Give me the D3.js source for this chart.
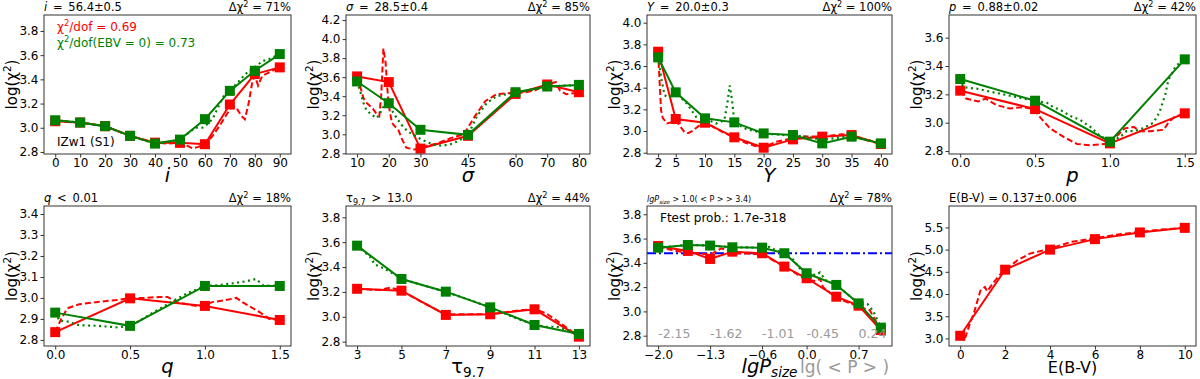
<!DOCTYPE html>
<html lang="en">
<head>
<meta charset="UTF-8">
<title>chi2 grid IZw1</title>
<script src="https://cdn.jsdelivr.net/npm/d3@7"></script>
<style>
  body { margin: 0; background: #fff; }
  svg text { font-family: "DejaVu Sans", sans-serif; }
</style>
</head>
<body>
<script>
// ---- data ----
// i
var iGrid = [0, 10, 20, 30, 40, 50, 60, 70, 80, 90];
var iRed = [3.054, 3.043, 3.013, 2.933, 2.877, 2.875, 2.864, 3.192, 3.444, 3.499];
var iGreen = [3.062, 3.043, 3.013, 2.933, 2.869, 2.902, 3.071, 3.305, 3.471, 3.609];
var iRedFine = [[0,3.054],[10,3.043],[20,3.013],[30,2.933],[40,2.877],[45,2.87],[50,2.875],[53,2.85],[55,2.83],[57,2.84],[60,2.86],[63,2.93],[66,3.02],[69,3.12],[70.5,3.17],[72.5,3.17],[74.5,3.1],[76,3.07],[77.5,3.2],[79,3.38],[80,3.43],[81.3,3.35],[83,3.43],[86,3.46],[90,3.499]];
var iGreenFine = [[0,3.062],[10,3.043],[20,3.013],[30,2.933],[40,2.869],[45,2.88],[50,2.902],[53,2.95],[56,3.0],[59,3.0],[61,3.03],[63,3.07],[66,3.2],[68,3.28],[70,3.305],[73,3.37],[76,3.44],[80,3.5],[83,3.55],[86,3.57],[90,3.609]];

// sigma
var sGrid = [10, 20, 30, 45, 60, 70, 80];
var sRed = [3.608, 3.548, 2.850, 2.984, 3.424, 3.523, 3.442];
var sGreen = [3.555, 3.326, 3.047, 2.994, 3.442, 3.502, 3.519];
var sRedFine = [[10,3.6],[11,3.5],[12,3.38],[13,3.33],[14,3.3],[15,3.27],[16,3.22],[17,3.19],[17.6,3.4],[18.3,3.9],[19,3.75],[19.5,3.5],[20,3.3],[21,3.12],[22,3.08],[23,3.05],[24,2.96],[25.5,2.86],[28,2.84],[30,2.85],[32,2.88],[35,2.9],[39.5,2.96],[43.7,3.0],[47,3.18],[50.5,3.35],[54,3.42],[57,3.43],[60,3.44],[63,3.44],[66,3.46],[70,3.52],[72.7,3.55],[74,3.46],[76,3.42],[80,3.44]];
var sGreenFine = [[10,3.555],[11,3.45],[12,3.33],[13,3.25],[14.5,3.21],[16,3.17],[17,3.2],[18,3.28],[20,3.326],[21,3.25],[22.5,3.17],[24,3.1],[26,3.03],[28,2.99],[30,2.95],[32,2.92],[34,2.89],[37,2.88],[40,2.9],[43,2.95],[45,2.994],[48,3.2],[51,3.33],[54,3.4],[57,3.42],[60,3.442],[63,3.45],[67,3.48],[70,3.502],[75,3.51],[80,3.519]];

// Y
var yGrid = [2, 5, 10, 15, 20, 25, 30, 35, 40];
var yRed = [3.732, 3.111, 3.077, 2.942, 2.846, 2.923, 2.948, 2.963, 2.88];
var yGreen = [3.68, 3.357, 3.117, 3.08, 2.978, 2.963, 2.886, 2.948, 2.886];
var yRedFine = [[2,3.72],[2.3,3.4],[2.5,3.19],[2.8,3.12],[3.5,3.07],[4.2,3.08],[5,3.1],[5.8,3.04],[6.5,2.99],[7.1,2.98],[7.8,3.0],[9,3.05],[10,3.077],[11.3,3.04],[13,2.99],[15,2.942],[17,2.89],[18.7,2.86],[20,2.846],[22,2.9],[23.7,2.92],[26.6,2.95],[30,2.95],[33.3,2.97],[35,2.96],[37.3,2.92],[40,2.88]];
var yGreenFine = [[2,3.68],[2.6,3.47],[3.1,3.33],[3.8,3.31],[5,3.357],[6.8,3.26],[8.5,3.13],[10,3.117],[11.9,3.07],[13.3,3.1],[13.9,3.29],[14.2,3.42],[14.6,3.29],[15,3.08],[17,3.02],[20,2.978],[24,2.96],[27,2.95],[30,2.92],[33,2.94],[35,2.955],[40,2.886]];

// p
var pGrid = [0.0, 0.5, 1.0, 1.5];
var pRed = [3.226, 3.096, 2.854, 3.066];
var pGreen = [3.308, 3.155, 2.866, 3.447];
var pRedFine = [[0,3.226],[0.04,3.17],[0.12,3.15],[0.17,3.17],[0.24,3.125],[0.33,3.1],[0.42,3.11],[0.49,3.096],[0.54,3.03],[0.6,2.96],[0.69,2.9],[0.78,2.85],[0.87,2.84],[0.96,2.85],[1.0,2.854],[1.04,2.9],[1.1,2.96],[1.16,2.97],[1.2,2.94],[1.27,2.94],[1.36,2.95],[1.39,3.0],[1.43,3.04],[1.5,3.066]];
var pGreenFine = [[0,3.308],[0.02,3.25],[0.11,3.24],[0.24,3.21],[0.38,3.18],[0.49,3.155],[0.58,3.14],[0.62,3.11],[0.67,3.09],[0.73,3.05],[0.8,3.02],[0.87,2.97],[0.93,2.91],[1.0,2.866],[1.07,2.9],[1.11,2.94],[1.16,2.94],[1.22,2.96],[1.29,3.0],[1.33,3.07],[1.37,3.2],[1.39,3.3],[1.44,3.4],[1.5,3.447]];

// q
var qGrid = [0.0, 0.5, 1.0, 1.5];
var qRed = [2.837, 2.998, 2.962, 2.895];
var qGreen = [2.93, 2.867, 3.057, 3.057];
var qRedFine = [[0,2.837],[0.04,2.9],[0.08,2.95],[0.16,2.97],[0.27,2.98],[0.41,2.99],[0.5,3.0],[0.6,3.0],[0.7,3.005],[0.75,3.005],[0.81,2.98],[0.88,2.97],[0.96,2.96],[1.05,2.98],[1.14,2.99],[1.21,3.0],[1.25,2.98],[1.37,2.93],[1.43,2.9],[1.5,2.895]];
var qGreenFine = [[0,2.93],[0.03,2.89],[0.07,2.89],[0.16,2.87],[0.29,2.867],[0.41,2.86],[0.5,2.867],[0.56,2.89],[0.7,2.95],[0.875,3.02],[1.0,3.057],[1.08,3.06],[1.19,3.07],[1.28,3.08],[1.34,3.09],[1.39,3.06],[1.5,3.057]];

// tau 9.7
var tGrid = [3, 5, 7, 9, 11, 13];
var tRed = [3.225, 3.21, 3.015, 3.02, 3.06, 2.84];
var tGreen = [3.572, 3.304, 3.202, 3.076, 2.934, 2.862];
var tRedFine = [[3,3.225],[4,3.215],[4.5,3.235],[5,3.21],[6,3.11],[7,3.02],[8,3.02],[9,3.02],[10,3.045],[10.5,3.055],[11,3.06],[11.5,3.03],[12,2.97],[13,2.84]];
var tGreenFine = [[3,3.572],[3.6,3.48],[3.8,3.42],[4.2,3.39],[4.8,3.33],[5,3.304],[7,3.2],[8,3.14],[9,3.076],[10,3.0],[11,2.934],[11.5,2.92],[12,2.92],[13,2.862]];

// lgPsize
var lGrid = [-2.0, -1.6, -1.3, -1.0, -0.6, -0.3, 0.0, 0.4, 0.7, 1.0];
var lRed = [3.539, 3.498, 3.432, 3.492, 3.479, 3.369, 3.273, 3.121, 3.047, 2.847];
var lGreen = [3.525, 3.547, 3.542, 3.528, 3.525, 3.479, 3.314, 3.218, 3.066, 2.866];
var lRedFine = [[-2.0,3.539],[-1.85,3.51],[-1.6,3.48],[-1.45,3.48],[-1.3,3.465],[-1.2,3.5],[-1.15,3.52],[-1.05,3.5],[-1.0,3.48],[-0.6,3.47],[-0.3,3.37],[0.0,3.26],[0.12,3.25],[0.18,3.27],[0.22,3.2],[0.4,3.11],[0.7,3.04],[0.85,3.01],[0.95,2.9],[1.0,2.85]];
var lGreenFine = [[-2.0,3.525],[-1.6,3.547],[-1.3,3.542],[-1.0,3.528],[-0.6,3.525],[-0.5,3.53],[-0.4,3.5],[-0.3,3.48],[-0.2,3.44],[-0.1,3.36],[0.0,3.31],[0.12,3.3],[0.18,3.32],[0.25,3.26],[0.4,3.218],[0.7,3.066],[0.82,3.06],[0.9,3.0],[1.0,2.866]];
var lFtestLevel = 3.479;
var lTicks = [-2.0, -1.3, -0.6, 0.0, 0.7];
var lTickLabels = ["\u22122.0", "\u22121.3", "\u22120.6", "0.0", "0.7"];
var lMeanPLabels = ["-2.15", "-1.62", "-1.01", "-0.45", "0.24"];

// E(B-V)
var eGrid = [0, 2, 4, 6, 8, 10];
var eRed = [3.06, 4.548, 5.0, 5.236, 5.387, 5.49];
var eRedFine = [[0,3.06],[0.18,2.95],[0.4,3.29],[0.62,3.59],[0.9,4.08],[1.1,4.16],[1.2,4.06],[1.44,4.23],[1.74,4.42],[2,4.55],[2.55,4.76],[3.1,4.91],[4,5.02],[4.9,5.17],[6,5.26],[7,5.34],[8,5.4],[8.9,5.45],[10,5.49]];

// ---- layout ----
var w = 1200, h = 379;
var cols = [[44, 291], [346, 590], [647, 892], [949, 1196]];
var rows = [[15, 154], [206, 346]];
var tickFs = 12, ylabFs = 15, mathFs = 19.5, topFs = 11.5;
var EN = "\u2002";

var svg = d3.select("body").append("svg").attr("width", w).attr("height", h);

// text with italic / super / subscript / colour pieces
function rich(sel, parts, fs) {
  var shift = 0;
  parts.forEach(function(p) {
    var target = p.sup ? -fs * 0.38 : (p.sub ? fs * 0.22 : 0);
    var ts = sel.append("tspan").text(p.t).attr("dy", target - shift);
    shift = target;
    if (p.sup || p.sub) ts.attr("font-size", fs * 0.7);
    if (p.i) ts.style("font-style", "italic");
    if (p.c) ts.attr("fill", p.c);
  });
  return sel;
}

function dchi(v) { return [{t: "\u0394\u03c7"}, {t: "2", sup: 1}, {t: " = " + v}]; }

var panels = [
  {c: 0, r: 0, xs: iGrid, red: iRed, green: iGreen, redFine: iRedFine, greenFine: iGreenFine,
   yDom: [2.783, 3.932], yTicks: [2.8, 3.0, 3.2, 3.4, 3.6, 3.8], xTicks: iGrid, xFmt: d3.format("d"),
   xLab: [{t: "i", i: 1}], left: [{t: "i", i: 1}, {t: EN + "=" + EN + "56.4\u00b10.5"}], right: "71%"},
  {c: 1, r: 0, xs: sGrid, red: sRed, green: sGreen, redFine: sRedFine, greenFine: sGreenFine,
   yDom: [2.793, 4.253], yTicks: [2.8, 3.0, 3.2, 3.4, 3.6, 3.8, 4.0, 4.2], xTicks: sGrid, xFmt: d3.format("d"),
   xLab: [{t: "\u03c3", i: 1}], left: [{t: "\u03c3", i: 1}, {t: EN + "=" + EN + "28.5\u00b10.4"}], right: "85%"},
  {c: 2, r: 0, xs: yGrid, red: yRed, green: yGreen, redFine: yRedFine, greenFine: yGreenFine,
   yDom: [2.788, 4.071], yTicks: [2.8, 3.0, 3.2, 3.4, 3.6, 3.8, 4.0], xTicks: yGrid, xFmt: d3.format("d"),
   xLab: [{t: "Y", i: 1}], left: [{t: "Y", i: 1}, {t: EN + "=" + EN + "20.0\u00b10.3"}], right: "100%"},
  {c: 3, r: 0, xs: pGrid, red: pRed, green: pGreen, redFine: pRedFine, greenFine: pGreenFine,
   yDom: [2.779, 3.76], yTicks: [2.8, 3.0, 3.2, 3.4, 3.6], xTicks: pGrid, xFmt: d3.format(".1f"),
   xLab: [{t: "p", i: 1}], left: [{t: "p", i: 1}, {t: EN + "=" + EN + "0.88\u00b10.02"}], right: "42%"},
  {c: 0, r: 1, xs: qGrid, red: qRed, green: qGreen, redFine: qRedFine, greenFine: qGreenFine,
   yDom: [2.771, 3.438], yTicks: [2.8, 2.9, 3.0, 3.1, 3.2, 3.3, 3.4], xTicks: qGrid, xFmt: d3.format(".1f"),
   xLab: [{t: "q", i: 1}], left: [{t: "q", i: 1}, {t: EN + "<" + EN + "0.01"}], right: "18%"},
  {c: 1, r: 1, xs: tGrid, red: tRed, green: tGreen, redFine: tRedFine, greenFine: tGreenFine,
   yDom: [2.765, 3.891], yTicks: [2.8, 3.0, 3.2, 3.4, 3.6, 3.8], xTicks: tGrid, xFmt: d3.format("d"),
   xLab: [{t: "\u03c4"}, {t: "9.7", sub: 1}], left: [{t: "\u03c4"}, {t: "9.7", sub: 1}, {t: EN + ">" + EN + "13.0"}], right: "44%"},
  {c: 2, r: 1, xs: lGrid, red: lRed, green: lGreen, redFine: lRedFine, greenFine: lGreenFine,
   yDom: [2.715, 3.868], yTicks: [2.8, 3.0, 3.2, 3.4, 3.6, 3.8], xTicks: lTicks,
   xFmt: function(d, i) { return lTickLabels[i]; }, xLab: null, left: null, right: "78%", lg: true},
  {c: 3, r: 1, xs: eGrid, red: eRed, green: null, redFine: eRedFine, greenFine: null,
   yDom: [2.83, 5.982], yTicks: [3.0, 3.5, 4.0, 4.5, 5.0, 5.5], xTicks: eGrid, xFmt: d3.format("d"),
   xLab: [{t: "E(B-V)"}], xLabFs: 16, left: [{t: "E(B-V) = 0.137\u00b10.006"}], right: null}
];

panels.forEach(function(p, k) {
  var x0 = cols[p.c][0], x1 = cols[p.c][1], y0 = rows[p.r][0], y1 = rows[p.r][1];
  var lo = d3.min(p.xs), hi = d3.max(p.xs), m = (hi - lo) * 0.05;
  var xScale = d3.scaleLinear().domain([lo - m, hi + m]).range([x0, x1]);
  var yScale = d3.scaleLinear().domain(p.yDom).range([y1, y0]);
  var g = svg.append("g");

  g.append("clipPath").attr("id", "clip" + k)
    .append("rect").attr("x", x0).attr("y", y0).attr("width", x1 - x0).attr("height", y1 - y0);
  var plot = g.append("g").attr("clip-path", "url(#clip" + k + ")");

  var line = d3.line().x(function(d) { return xScale(d[0]); }).y(function(d) { return yScale(d[1]); });
  function pairs(ys) { return p.xs.map(function(v, i) { return [v, ys[i]]; }); }

  if (p.lg) {
    plot.append("line")
      .attr("x1", x0).attr("x2", x1)
      .attr("y1", yScale(lFtestLevel)).attr("y2", yScale(lFtestLevel))
      .attr("stroke", "#0000ff").attr("stroke-width", 2).attr("stroke-dasharray", "9,3,2,3");
  }

  // red: coarse grid + fine grid
  plot.append("path").attr("d", line(pairs(p.red)))
    .attr("fill", "none").attr("stroke", "#ff0000").attr("stroke-width", 2);
  plot.append("path").attr("d", line(p.redFine))
    .attr("fill", "none").attr("stroke", "#ff0000").attr("stroke-width", 2).attr("stroke-dasharray", "6,3");
  plot.selectAll(".rsq").data(pairs(p.red)).enter().append("rect")
    .attr("x", function(d) { return xScale(d[0]) - 5; })
    .attr("y", function(d) { return yScale(d[1]) - 5; })
    .attr("width", 10).attr("height", 10).attr("fill", "#ff0000");

  if (p.green) {
    plot.append("path").attr("d", line(pairs(p.green)))
      .attr("fill", "none").attr("stroke", "#008000").attr("stroke-width", 2);
    plot.append("path").attr("d", line(p.greenFine))
      .attr("fill", "none").attr("stroke", "#008000").attr("stroke-width", 2.2).attr("stroke-dasharray", "2,3.5");
    plot.selectAll(".gsq").data(pairs(p.green)).enter().append("rect")
      .attr("x", function(d) { return xScale(d[0]) - 5; })
      .attr("y", function(d) { return yScale(d[1]) - 5; })
      .attr("width", 10).attr("height", 10).attr("fill", "#008000");
  }

  // axes
  var xAxis = d3.axisBottom(xScale).tickValues(p.xTicks).tickFormat(p.xFmt).tickSize(3.5).tickPadding(1);
  var yAxis = d3.axisLeft(yScale).tickValues(p.yTicks).tickFormat(d3.format(".1f")).tickSize(3.5).tickPadding(2);
  var gx = g.append("g").attr("transform", "translate(0," + y1 + ")").call(xAxis);
  var gy = g.append("g").attr("transform", "translate(" + x0 + ",0)").call(yAxis);
  [gx, gy].forEach(function(a) {
    a.select(".domain").remove();
    a.attr("font-family", null).attr("font-size", tickFs);
    a.selectAll("line").attr("stroke", "#333");
    a.selectAll("text").attr("fill", "#000");
  });

  g.append("rect").attr("x", x0).attr("y", y0).attr("width", x1 - x0).attr("height", y1 - y0)
    .attr("fill", "none").attr("stroke", "#333").attr("stroke-width", 1);

  // labels
  var yl = g.append("text").attr("text-anchor", "middle").attr("font-size", ylabFs)
    .attr("transform", "translate(" + (x0 - 27) + "," + ((y0 + y1) / 2) + ") rotate(-90)");
  rich(yl, [{t: "log(\u03c7"}, {t: "2", sup: 1}, {t: ")"}], ylabFs);

  var xlBase = p.r === 0 ? 182 : 373;
  if (p.xLab) {
    var fs = p.xLabFs || mathFs;
    rich(g.append("text").attr("x", (x0 + x1) / 2).attr("y", xlBase).attr("text-anchor", "middle")
      .attr("font-size", fs), p.xLab, fs);
  }
  if (p.left) {
    rich(g.append("text").attr("x", x0).attr("y", y0 - 4).attr("font-size", topFs), p.left, topFs);
  }
  if (p.right) {
    rich(g.append("text").attr("x", x1).attr("y", y0 - 4).attr("text-anchor", "end").attr("font-size", topFs),
      dchi(p.right), topFs);
  }

  if (k === 0) {
    rich(g.append("text").attr("x", x0 + 13).attr("y", y0 + 16).attr("font-size", 12),
      [{t: "\u03c7", c: "#ff0000"}, {t: "2", sup: 1, c: "#ff0000"}, {t: "/dof = 0.69", c: "#ff0000"}], 12);
    rich(g.append("text").attr("x", x0 + 13).attr("y", y0 + 32).attr("font-size", 12),
      [{t: "\u03c7", c: "#008000"}, {t: "2", sup: 1, c: "#008000"}, {t: "/dof(EBV = 0) = 0.73", c: "#008000"}], 12);
    g.append("text").attr("x", x0 + 13).attr("y", y1 - 8).attr("font-size", 12).text("IZw1 (S1)");
  }

  if (p.lg) {
    g.append("text").attr("x", x0 + 13).attr("y", y0 + 16).attr("font-size", 12).text("Ftest prob.: 1.7e-318");
    g.selectAll(".mp").data(lTicks).enter().append("text")
      .attr("x", function(d) { return xScale(d); }).attr("y", y1 - 8)
      .attr("font-size", 12.5).attr("fill", "#999")
      .text(function(d, i) { return lMeanPLabels[i]; });
    rich(g.append("text").attr("x", x0).attr("y", y0 - 4).attr("font-size", 8),
      [{t: "lgP", i: 1}, {t: "size", i: 1, sub: 1}, {t: " > 1.0( < P >  > 3.4)"}], 8);
    rich(g.append("text").attr("x", (x0 + x1) / 2).attr("y", xlBase).attr("text-anchor", "middle")
      .attr("font-size", mathFs), [{t: "lgP", i: 1}, {t: "size", i: 1, sub: 1}], mathFs);
    g.append("text").attr("x", x0 + 153).attr("y", xlBase).attr("font-size", 17).attr("fill", "#999")
      .text("lg( < P > )");
  }
});
</script>
</body>
</html>
